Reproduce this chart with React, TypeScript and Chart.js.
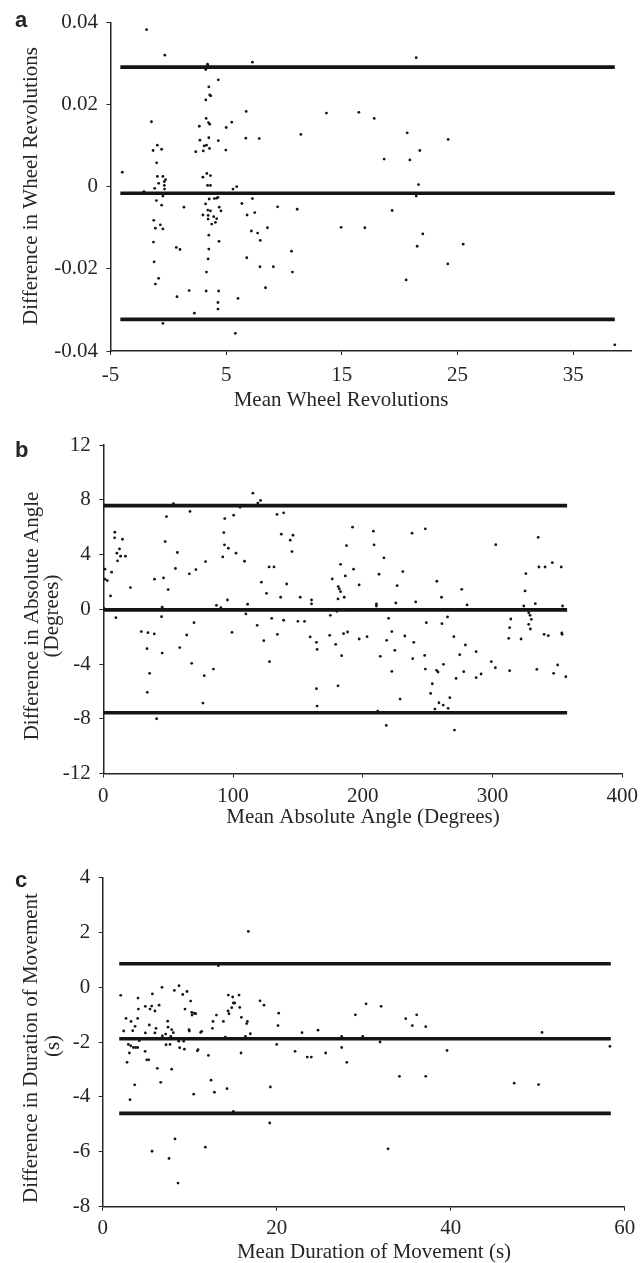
import React, { useEffect, useRef } from 'react';
import { Chart, registerables } from 'chart.js';

Chart.register(...registerables);

// ---------------- DATA ----------------
// Panel a: wheel revolutions
const A_MEAN = [
  -3.98, -1.88, -0.30, -1.46, -0.95, -1.32, -0.58, -1.01, -0.95, -0.47,
  -0.84, -0.24, -0.35, -0.35, -1.18, -0.33, -2.11, -0.47, -1.03, -0.58,
  -1.26, -0.69, -1.12, -0.47, -1.29, -1.23, -0.84, -1.12, -0.47, 1.35,
  0.69, 1.01, 0.75, 1.80, 2.25, 2.37, 2.68, 2.73, 3.02, 3.10,
  3.24, 3.27, 3.39, 3.41, 3.24, 3.50, 3.58, 3.67, 3.47, 3.58,
  3.50, 3.30, 3.56, 4.32, 4.32, 2.99, 3.33, 3.64, 3.39, 3.64,
  3.53, 3.98, 4.18, 4.29, 3.22, 3.41, 3.64, 2.99, 3.44, 3.92,
  4.55, 4.40, 3.44, 3.75, 4.18, 4.07, 3.50, 4.38, 3.50, 3.44,
  3.30, 3.27, 4.35, 4.29, 4.29, 4.97, 5.00, 5.48, 5.59, 5.91,
  5.79, 6.02, 6.36, 6.73, 6.70, 6.81, 6.78, 7.27, 7.27, 7.47,
  7.18, 7.72, 7.86, 7.95, 7.92, 8.57, 8.40, 9.08, 9.45,
  11.46, 13.67, 16.47, 17.80, 20.65, 24.19, 21.74, 18.66, 20.88, 21.63,
  21.43, 11.14, 19.35, 14.94, 16.99, 22.00, 21.51, 25.49, 10.65, 10.73,
  24.16, 20.56, 21.43, 38.60,
];
const A_DIFF = [
  0.0035, 0.0382, 0.0320, 0.0158, 0.0101, 0.0088, 0.0091, 0.0058, 0.0025, 0.0025,
  0.0008, 0.0017, 0.0012, 0.0003, -0.0004, -0.0006, -0.0012, -0.0023, -0.0034, -0.0045,
  -0.0082, -0.0093, -0.0101, -0.0103, -0.0135, -0.0183, -0.0223, -0.0237, -0.0333, -0.0050,
  -0.0148, -0.0153, -0.0268, -0.0253, -0.0308, 0.0085, 0.0147, 0.0113, 0.0087, 0.0099,
  0.0211, 0.0166, 0.0298, 0.0294, 0.0285, 0.0243, 0.0223, 0.0221, 0.0156, 0.0152,
  0.0119, 0.0101, 0.0093, 0.0260, 0.0112, 0.0023, 0.0032, 0.0027, 0.0003, 0.0003,
  -0.0030, -0.0029, -0.0028, -0.0026, -0.0042, -0.0057, -0.0059, -0.0069, -0.0070, -0.0073,
  -0.0059, -0.0050, -0.0079, -0.0091, -0.0078, -0.0087, -0.0118, -0.0133, -0.0152, -0.0176,
  -0.0208, -0.0254, -0.0254, -0.0282, -0.0298, 0.0089, 0.0144, 0.0157, -0.0006, 0.0000,
  -0.0357, -0.0272, -0.0041, 0.0183, 0.0118, -0.0069, -0.0173, 0.0303, -0.0029, -0.0063,
  -0.0108, -0.0113, 0.0117, -0.0131, -0.0195, -0.0100, -0.0246, -0.0195, -0.0049,
  0.0127, 0.0179, 0.0181, 0.0166, 0.0131, 0.0115, 0.0088, 0.0067, 0.0065, 0.0005,
  -0.0023, -0.0055, -0.0058, -0.0099, -0.0100, -0.0115, -0.0145, -0.0140, -0.0157, -0.0208,
  -0.0188, -0.0227, 0.0314, -0.0385,
];
const A_LIMITS = [0.0291, -0.0016, -0.0323];
const A_LINE_X = [-4.15, 38.6];
const A_XTICKS = [-5, 5, 15, 25, 35];
const A_XLABELS = ['-5', '5', '15', '25', '35'];
const A_YTICKS = [-0.04, -0.02, 0, 0.02, 0.04];
const A_YLABELS = ['-0.04', '-0.02', '0', '0.02', '0.04'];

// Panel b: absolute angle
const B_MEAN = [
  1.3, 1.3, 3.1, 5.6, 6.4, 8.9, 8.7, 10.5, 11.0, 12.5,
  13.3, 14.8, 17.1, 20.9, 9.7, 0.5, 29.3, 34.4, 39.3, 33.7,
  35.7, 33.9, 41.1, 39.5, 46.4, 47.7, 48.7, 50.0, 54.1, 45.4,
  44.9, 45.4, 55.6, 57.1, 58.9, 64.3, 66.3, 66.8, 68.1, 69.9,
  71.4, 77.8, 76.8, 78.8, 84.9, 87.2, 90.6, 92.1, 92.9, 93.4,
  93.6, 96.4, 95.7, 99.2, 100.5, 102.3, 105.4, 108.9, 109.9, 111.2,
  115.3, 119.1, 121.2, 118.6, 121.9, 123.7, 125.8, 127.8, 131.6, 128.1,
  129.8, 133.9, 134.2,
  139.0, 137.2, 146.2, 144.1, 145.4, 141.3, 136.7, 151.8, 160.5, 160.5,
  139.0, 150.0, 155.1, 159.4, 164.3, 164.8, 164.3, 164.8, 175.0, 174.5,
  179.1, 183.7, 180.9, 176.5, 181.1, 181.9, 182.9, 180.9, 185.7, 182.9,
  186.5, 187.5, 192.1, 192.9, 197.2, 185.2, 188.3, 197.2, 203.3, 190.6,
  180.1, 208.2, 208.7, 216.3, 212.5, 210.5, 210.5, 219.9, 222.4, 218.4,
  224.7, 213.5, 222.4, 228.8, 211.5, 218.1, 225.5, 226.5, 230.9, 238.0,
  248.2, 240.8, 232.4, 239.3, 238.5, 247.7, 248.2, 249.0, 257.1, 260.7,
  261.0, 265.3, 256.9, 258.0, 262.2, 253.6, 252.3, 271.9, 258.7, 262.0,
  267.1, 255.6, 265.8, 270.7, 270.2, 274.7, 279.1, 277.8, 276.3, 280.4,
  302.5, 325.7, 325.1, 324.1, 314.1, 313.2, 312.5, 322.0, 327.9, 328.9,
  329.9, 327.9, 329.2, 333.0, 335.2, 335.8, 340.5, 346.1, 353.0, 354.0,
  339.8, 343.0, 353.4, 353.6, 313.2, 299.1, 302.2, 287.4, 287.4, 291.2,
  334.2, 347.1, 350.2, 356.5,
];
const B_DIFF = [
  2.93, 2.20, 2.10, 0.98, 2.71, 5.63, 5.22, 4.10, 3.54, 4.41,
  3.88, 5.12, 3.88, 1.59, -0.61, 0.07, -1.63, -1.71, -1.80, -2.88,
  -4.68, -6.07, -8.00, 2.20, 2.29, 4.95, 6.78, 1.44, 7.73, 0.15,
  -0.54, -3.20, 2.98, 4.15, -2.80, -1.88, 2.59, 7.15, -3.95, -0.98,
  2.90, -4.85, -6.85, 3.49, -4.37, 0.29, 0.12, 3.83, 5.61, 4.71,
  6.63, 4.46, 0.68, -1.68, 6.88, 4.10, 7.46, 3.51, -0.34, 0.37,
  8.49, 7.76, 7.95, -1.17, 1.98, -2.29, 1.17, 3.10, 3.10, -3.83,
  -0.66, 6.93, -1.83,
  7.05, 5.49, 5.41, 5.05, 4.22, 1.85, 0.88, 0.88, 0.68, 0.39,
  -0.80, -0.88, -0.88, -2.02, -2.41, -2.93, -5.80, -7.07, -0.44, -1.90,
  -2.56, -3.39, -5.59, 2.22, 1.66, 1.49, 1.29, 0.76, 0.88, 3.29,
  2.44, 4.66, 6.00, 2.93, 1.78, -1.78, -1.66, -2.17, -2.00, -0.05,
  -0.15, 5.71, 4.71, 3.76, 2.56, 0.39, 0.24, -0.66, -1.63, -2.27,
  -3.00, -3.44, -4.54, -6.56, -7.44, -8.49, 0.46, 1.73, 2.76, 5.56,
  5.88, 0.54, -1.95, -2.41, -3.61, -3.37, -4.37, -0.98, 2.05, 0.88,
  -1.05, -0.56, -4.46, -4.59, -4.02, -5.44, -6.15, -5.05, -6.83, -7.00,
  -6.46, -7.29, -7.24, -8.83, -2.00, -3.32, -2.61, -4.56, 1.46, 0.32,
  4.72, 2.60, 1.34, 0.24, -0.71, -1.34, -2.12, -2.17, -0.25, -0.44,
  -0.73, -1.10, -1.44, 0.41, 5.26, 3.09, 3.09, 3.41, 3.09, 0.24,
  -1.83, -1.93, -1.73, -1.83, -4.49, -3.83, -4.27, -3.10, -5.00, -4.73,
  -4.39, -4.68, -4.07, -4.93,
];
const B_LIMITS = [7.58, -0.04, -7.56];
const B_LINE_X = [0, 357.5];
const B_XTICKS = [0, 100, 200, 300, 400];
const B_XLABELS = ['0', '100', '200', '300', '400'];
const B_YTICKS = [-12, -8, -4, 0, 4, 8, 12];
const B_YLABELS = ['-12', '-8', '-4', '0', '4', '8', '12'];

// Panel c: duration of movement
const C_MEAN = [
  2.07, 2.41, 2.68, 2.80, 2.95, 3.07, 3.14, 3.26, 3.22, 3.45,
  3.52, 3.68, 3.72, 3.79, 4.02, 4.06, 4.10, 4.02, 4.21, 4.87,
  4.90, 4.90, 5.06, 5.29, 5.36, 5.44, 5.63, 5.71, 5.67, 6.00,
  6.00, 6.13, 6.28, 6.48, 6.67, 6.82, 6.86, 7.24, 7.28, 7.47,
  7.51, 7.62, 7.74, 7.82, 7.93, 7.93, 8.12, 8.24, 8.31, 8.66,
  8.77, 8.74, 8.85, 9.20, 9.31, 9.39, 9.46, 9.69, 9.92, 9.96,
  10.11, 10.23, 10.27, 10.50, 10.69, 10.46, 10.88, 10.96, 11.26, 11.38,
  11.80, 12.15, 12.45, 12.61, 12.68, 12.84, 13.07, 13.30, 13.87, 14.10,
  14.29, 14.44, 14.41, 14.52, 14.83, 14.94, 15.02, 15.17, 15.02, 15.67,
  15.75, 15.94, 15.90, 16.55, 16.63, 16.74, 16.97, 16.40, 18.08,
  18.54, 20.23, 20.15, 19.27, 19.20, 20.00, 22.11, 22.91, 24.75, 23.52,
  23.98, 25.63, 27.47, 27.47, 28.05, 29.04, 29.89, 30.27, 32.00, 31.88,
  32.80, 34.10, 34.83, 35.59, 36.09, 37.13, 37.13, 39.58,
  47.3, 50.1, 50.5, 58.3,
];
const C_DIFF = [
  -0.30, -1.60, -1.14, -2.74, -2.09, -2.40, -4.10, -1.25, -2.14, -1.59,
  -2.20, -3.56, -1.43, -2.20, -1.14, -0.40, -0.80, -2.20, -1.95, -2.34,
  -0.70, -1.67, -2.65, -2.65, -1.38, -0.80, -0.69, -0.25, -5.98, -0.87,
  -1.67, -1.50, -2.96, -0.66, -3.47, -0.01, -1.78, -1.71, -2.10, -1.24,
  -1.46, -6.24, -2.09, -1.80, -1.55, -2.99, -1.66, -0.12, -5.53, -7.14,
  0.05, -1.97, -2.21, -0.27, -1.97, -2.26, -0.80, -0.16, -1.55, -1.60,
  -0.51, -0.92, -1.02, -0.95, -0.97, -3.90, -2.32, -2.28, -1.65, -1.61,
  -5.83, -2.49, -3.39, -1.50, -1.25, -3.83, -1.02, 0.78, -1.25, -1.82,
  -3.70, -0.29, -0.87, -0.97, -0.75, -0.36, -0.58, -0.58, -4.53, -0.29,
  -0.74, -1.10, -2.40, -1.33, -1.25, 2.03, -1.70, -1.80, -0.50,
  -0.66, -0.95, -1.40, -3.64, -4.95, -2.09, -2.34, -1.66, -1.57, -2.55,
  -2.55, -2.40, -1.80, -2.20, -2.74, -1.01, -1.80, -0.61, -0.70, -2.00,
  -5.89, -3.25, -1.15, -1.40, -1.01, -1.44, -3.25, -2.31,
  -3.50, -3.55, -1.65, -2.16,
];
const C_LIMITS = [0.85, -1.88, -4.6];
const C_LINE_X = [1.9, 58.4];
const C_XTICKS = [0, 20, 40, 60];
const C_XLABELS = ['0', '20', '40', '60'];
const C_YTICKS = [-8, -6, -4, -2, 0, 2, 4];
const C_YLABELS = ['-8', '-6', '-4', '-2', '0', '2', '4'];

// ---------------- STYLE / LAYOUT ----------------
const W = 644;
const INK = '#151515';
const TEXT = '#262626';
const AXIS = '#262626';
const SERIF = '"Liberation Serif", "Times New Roman", serif';
const SERIF_CSS = `21px ${SERIF}`;
const LETTER_CSS = `bold 22px "Liberation Sans", Arial, sans-serif`;

type Caption = {
  text: string;
  x: number;
  y: number;
  rotate?: boolean;
  font?: string;
  align?: CanvasTextAlign;
  baseline?: CanvasTextBaseline;
};

type PanelSpec = {
  mean: number[];
  diff: number[];
  limits: number[];
  lineX: number[];
  xMin: number;
  xMax: number;
  xTicks: number[];
  xLabels: string[];
  yMin: number;
  yMax: number;
  yTicks: number[];
  yLabels: string[];
  canvasTop: number;
  height: number;
  left: number;
  right: number;
  top: number;
  bottom: number;
  xTickPad: number;
  captions: Caption[];
};

const captionPlugin = {
  id: 'captions',
  afterDraw(chart: any, _args: any, opts: any) {
    const ctx: CanvasRenderingContext2D = chart.ctx;
    const items: Caption[] = (opts && opts.items) || [];
    for (const c of items) {
      ctx.save();
      ctx.fillStyle = TEXT;
      ctx.font = c.font || SERIF_CSS;
      ctx.textAlign = c.align || 'center';
      ctx.textBaseline = c.baseline || 'middle';
      ctx.translate(c.x, c.y);
      if (c.rotate) ctx.rotate(-Math.PI / 2);
      ctx.fillText(c.text, 0, 0);
      ctx.restore();
    }
  },
};

const PANEL_A: PanelSpec = {
  mean: A_MEAN, diff: A_DIFF, limits: A_LIMITS, lineX: A_LINE_X,
  xMin: -5, xMax: 40, xTicks: A_XTICKS, xLabels: A_XLABELS,
  yMin: -0.04, yMax: 0.04, yTicks: A_YTICKS, yLabels: A_YLABELS,
  canvasTop: 0, height: 420, left: 110.5, right: 631, top: 22.3, bottom: 351, xTickPad: 8,
  captions: [
    { text: 'a', x: 15, y: 27, font: LETTER_CSS, align: 'left', baseline: 'alphabetic' },
    { text: 'Difference in Wheel Revolutions', x: 31, y: 186, rotate: true },
    { text: 'Mean Wheel Revolutions', x: 341, y: 400 },
  ],
};

const PANEL_B: PanelSpec = {
  mean: B_MEAN, diff: B_DIFF, limits: B_LIMITS, lineX: B_LINE_X,
  xMin: 0, xMax: 400, xTicks: B_XTICKS, xLabels: B_XLABELS,
  yMin: -12, yMax: 12, yTicks: B_YTICKS, yLabels: B_YLABELS,
  canvasTop: 420, height: 420, left: 103.3, right: 625, top: 25.1, bottom: 353.5, xTickPad: 6,
  captions: [
    { text: 'b', x: 15, y: 37, font: LETTER_CSS, align: 'left', baseline: 'alphabetic' },
    { text: 'Difference in Absolute Angle', x: 32, y: 196, rotate: true },
    { text: '(Degrees)', x: 52, y: 196, rotate: true },
    { text: 'Mean Absolute Angle (Degrees)', x: 363, y: 397 },
  ],
};

const PANEL_C: PanelSpec = {
  mean: C_MEAN, diff: C_DIFF, limits: C_LIMITS, lineX: C_LINE_X,
  xMin: 0, xMax: 60, xTicks: C_XTICKS, xLabels: C_XLABELS,
  yMin: -8, yMax: 4, yTicks: C_YTICKS, yLabels: C_YLABELS,
  canvasTop: 840, height: 423, left: 102.7, right: 624.7, top: 37.3, bottom: 366.7, xTickPad: 5,
  captions: [
    { text: 'c', x: 15, y: 47, font: LETTER_CSS, align: 'left', baseline: 'alphabetic' },
    { text: 'Difference in Duration of Movement', x: 31, y: 208, rotate: true },
    { text: '(s)', x: 53, y: 206, rotate: true },
    { text: 'Mean Duration of Movement (s)', x: 374, y: 412 },
  ],
};

function buildConfig(p: PanelSpec): any {
  const points = p.mean.map((x, i) => ({ x, y: p.diff[i] }));
  const lineSets = p.limits.map((v) => ({
    type: 'line',
    data: [
      { x: p.lineX[0], y: v },
      { x: p.lineX[1], y: v },
    ],
    showLine: true,
    borderColor: INK,
    borderWidth: 3.6,
    borderCapStyle: 'butt',
    pointRadius: 0,
    fill: false,
  }));
  const tickFont = { family: SERIF, size: 21 };
  return {
    type: 'scatter',
    data: {
      datasets: [
        ...lineSets,
        {
          data: points,
          pointRadius: 1.4,
          pointHoverRadius: 1.4,
          pointBackgroundColor: INK,
          pointBorderWidth: 0,
          showLine: false,
        },
      ],
    },
    options: {
      animation: false,
      responsive: false,
      events: [],
      layout: { padding: { left: 0, top: p.top, right: W - p.right, bottom: 0 } },
      plugins: {
        legend: { display: false },
        tooltip: { enabled: false },
        captions: { items: p.captions },
      },
      scales: {
        x: {
          type: 'linear',
          position: 'bottom',
          min: p.xMin,
          max: p.xMax,
          afterBuildTicks: (s: any) => {
            s.ticks = p.xTicks.map((v) => ({ value: v }));
          },
          afterFit: (s: any) => {
            s.height = p.height - p.bottom;
          },
          ticks: {
            callback: (_v: any, i: number) => p.xLabels[i],
            font: tickFont,
            color: TEXT,
            padding: p.xTickPad,
            maxRotation: 0,
            autoSkip: false,
          },
          grid: { drawOnChartArea: false, drawTicks: true, tickLength: 4, color: AXIS, lineWidth: 1 },
          border: { display: true, color: AXIS, width: 1.5 },
        },
        y: {
          type: 'linear',
          position: 'left',
          min: p.yMin,
          max: p.yMax,
          afterBuildTicks: (s: any) => {
            s.ticks = p.yTicks.map((v) => ({ value: v }));
          },
          afterFit: (s: any) => {
            s.width = p.left;
          },
          ticks: {
            callback: (_v: any, i: number) => p.yLabels[i],
            font: tickFont,
            color: TEXT,
            padding: 8.5,
            autoSkip: false,
          },
          grid: { drawOnChartArea: false, drawTicks: true, tickLength: 4, color: AXIS, lineWidth: 1 },
          border: { display: true, color: AXIS, width: 1.5 },
        },
      },
    },
    plugins: [captionPlugin],
  };
}

function Panel({ spec }: { spec: PanelSpec }) {
  const ref = useRef<HTMLCanvasElement | null>(null);
  useEffect(() => {
    if (!ref.current) return;
    const chart = new Chart(ref.current, buildConfig(spec));
    return () => chart.destroy();
  }, [spec]);
  return (
    <canvas
      ref={ref}
      width={W}
      height={spec.height}
      style={{
        position: 'absolute',
        left: 0,
        top: spec.canvasTop,
        width: W,
        height: spec.height,
        display: 'block',
      }}
    />
  );
}

export default function App() {
  return (
    <div
      style={{
        position: 'absolute',
        left: 0,
        top: 0,
        width: W,
        height: 1263,
        background: '#ffffff',
        overflow: 'hidden',
      }}
    >
      <Panel spec={PANEL_A} />
      <Panel spec={PANEL_B} />
      <Panel spec={PANEL_C} />
    </div>
  );
}
